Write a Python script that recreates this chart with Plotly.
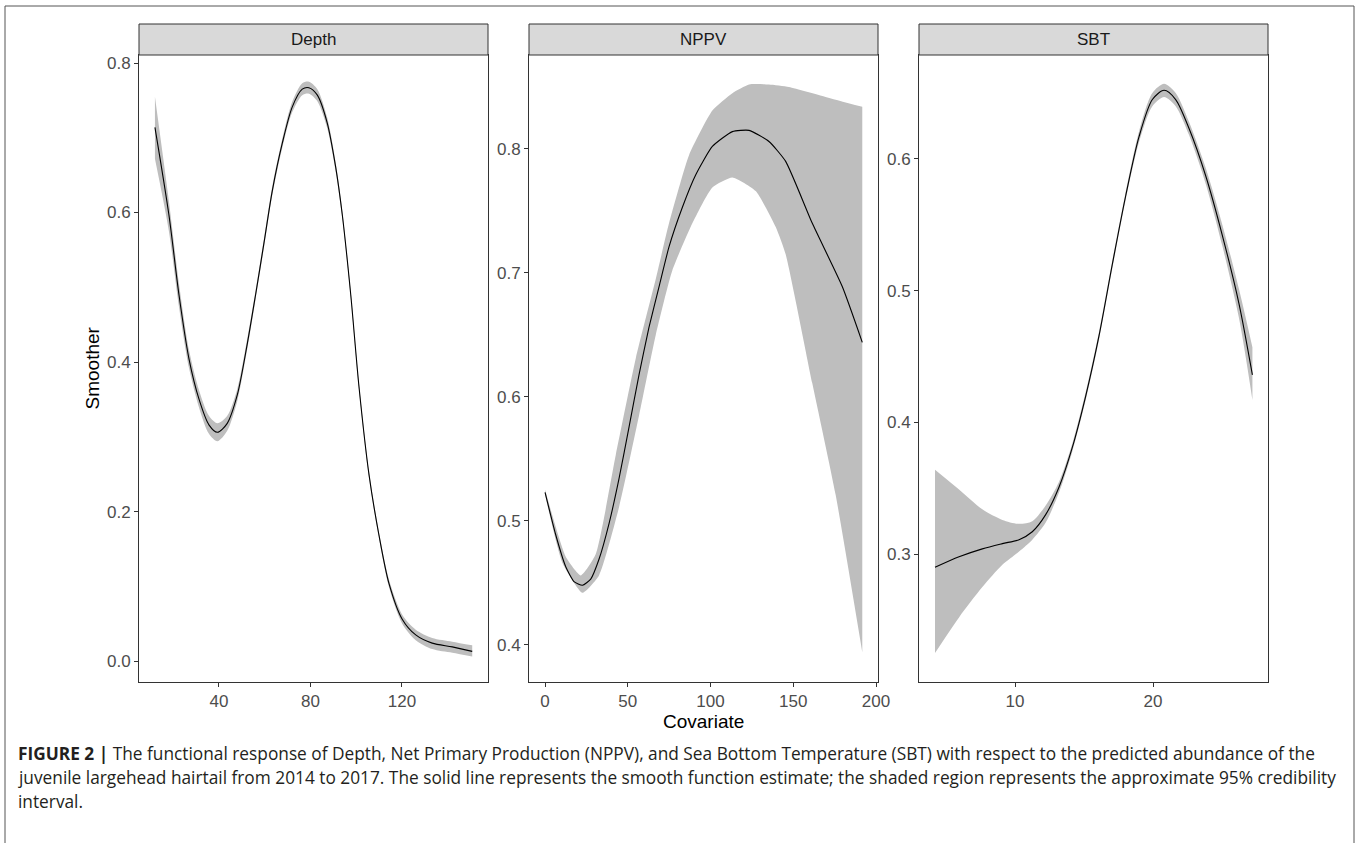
import plotly.graph_objects as go

W, H = 1359, 843

# ---------------- data ----------------
depth_x = [12.0, 18.1, 22.5, 26.9, 31.3, 35.6, 39.3, 43.6, 48.0, 52.4, 56.0, 59.7, 63.3, 67.7,
           72.0, 76.4, 79.3, 83.0, 87.3, 91.0, 93.9, 97.6, 101.2, 105.6, 109.9, 114.3, 120.1,
           126.0, 133.2, 142.0, 150.7]
depth_y = [0.714, 0.597, 0.490, 0.404, 0.350, 0.316, 0.306, 0.318, 0.356, 0.425, 0.490, 0.560,
           0.629, 0.693, 0.741, 0.765, 0.767, 0.757, 0.720, 0.661, 0.597, 0.490, 0.367, 0.249,
           0.169, 0.104, 0.056, 0.035, 0.024, 0.019, 0.013]
depth_lo = [0.672, 0.575, 0.474, 0.392, 0.339, 0.304, 0.294, 0.308, 0.348, 0.418, 0.484, 0.554,
            0.623, 0.687, 0.734, 0.757, 0.759, 0.749, 0.713, 0.655, 0.592, 0.486, 0.363, 0.245,
            0.165, 0.099, 0.050, 0.028, 0.016, 0.011, 0.006]
depth_hi = [0.755, 0.615, 0.505, 0.416, 0.362, 0.328, 0.318, 0.328, 0.364, 0.432, 0.496, 0.566,
            0.635, 0.699, 0.748, 0.773, 0.775, 0.765, 0.727, 0.667, 0.602, 0.494, 0.371, 0.253,
            0.173, 0.109, 0.062, 0.042, 0.031, 0.026, 0.021]

nppv_x = [0.0, 6.4, 12.5, 17.5, 22.6, 27.6, 32.6, 38.7, 44.7, 50.8, 56.8, 62.8, 68.9, 74.9,
          83.0, 91.0, 101.1, 113.2, 123.3, 135.3, 145.4, 161.5, 179.6, 191.7]
nppv_y = [0.523, 0.489, 0.463, 0.451, 0.448, 0.453, 0.469, 0.498, 0.534, 0.576, 0.618, 0.656,
          0.689, 0.721, 0.753, 0.779, 0.802, 0.814, 0.815, 0.806, 0.790, 0.740, 0.689, 0.644]
nppv_hi_x = [0.0, 12.5, 21.6, 30.6, 42.7, 54.8, 66.9, 74.9, 87.0, 101.1, 113.2, 123.3, 135.3,
             147.4, 169.5, 191.7]
nppv_hi = [0.525, 0.471, 0.456, 0.473, 0.553, 0.631, 0.695, 0.740, 0.795, 0.831, 0.845, 0.852,
           0.852, 0.850, 0.842, 0.834]
nppv_lo_x = [0.0, 10.5, 22.6, 32.6, 44.7, 56.8, 66.9, 76.9, 89.0, 101.1, 113.2, 127.3, 139.4,
             145.4, 161.5, 175.6, 191.7]
nppv_lo = [0.521, 0.466, 0.442, 0.456, 0.511, 0.585, 0.650, 0.702, 0.740, 0.769, 0.777, 0.766,
           0.737, 0.715, 0.611, 0.521, 0.394]

sbt_x = [4.20, 5.94, 7.63, 9.08, 10.29, 11.25, 12.22, 13.19, 14.15, 15.12, 16.09, 17.05, 18.02,
         18.99, 19.95, 20.80, 21.64, 22.61, 23.82, 25.02, 26.23, 27.20]
sbt_y = [0.290, 0.298, 0.304, 0.308, 0.311, 0.317, 0.330, 0.351, 0.381, 0.420, 0.466, 0.520,
         0.572, 0.617, 0.645, 0.652, 0.645, 0.623, 0.587, 0.542, 0.490, 0.436]
sbt_hi = [0.364, 0.349, 0.334, 0.326, 0.323, 0.325, 0.337, 0.355, 0.384, 0.423, 0.469, 0.523,
          0.575, 0.621, 0.650, 0.657, 0.650, 0.628, 0.593, 0.550, 0.501, 0.457]
sbt_lo = [0.225, 0.252, 0.275, 0.292, 0.302, 0.311, 0.324, 0.347, 0.378, 0.417, 0.463, 0.517,
          0.569, 0.613, 0.640, 0.647, 0.640, 0.618, 0.581, 0.534, 0.479, 0.417]

panel_names = ["Depth", "NPPV", "SBT"]
x_ticks = [[40, 80, 120], [0, 50, 100, 150, 200], [10, 20]]
y_ticks = [[0.0, 0.2, 0.4, 0.6, 0.8], [0.4, 0.5, 0.6, 0.7, 0.8], [0.3, 0.4, 0.5, 0.6]]
x_ranges = [[5.03, 157.6], [-9.7, 201.2], [3.04, 28.33]]
y_ranges = [[-0.028, 0.8107], [0.370, 0.8758], [0.203, 0.6788]]

caption_lines = [
    "<b>FIGURE 2 |</b> The functional response of Depth, Net Primary Production (NPPV), and Sea Bottom Temperature (SBT) with respect to the predicted abundance of the",
    "juvenile largehead hairtail from 2014 to 2017. The solid line represents the smooth function estimate; the shaded region represents the approximate 95% credibility",
    "interval.",
]

# ---------------- figure ----------------
FONT = "Liberation Sans, Arial, sans-serif"
CAP_FONT = "Open Sans, Liberation Sans, sans-serif"
BAND = "#BEBEBE"
fig = go.Figure()

panels_px = [(139, 488), (529, 878), (919, 1268)]
top_px, bot_px = 55, 682
strip_top = 24


def band(xl, yl, xh, yh, ax, smooth):
    fig.add_trace(go.Scatter(x=xl, y=yl, mode="lines",
                             line=dict(width=0, shape="spline", smoothing=smooth),
                             hoverinfo="skip", showlegend=False,
                             xaxis="x" + ax, yaxis="y" + ax))
    fig.add_trace(go.Scatter(x=xh, y=yh, mode="lines", fill="tonexty", fillcolor=BAND,
                             line=dict(width=0, shape="spline", smoothing=smooth),
                             hoverinfo="skip", showlegend=False,
                             xaxis="x" + ax, yaxis="y" + ax))


def line(x, y, ax, smooth):
    fig.add_trace(go.Scatter(x=x, y=y, mode="lines",
                             line=dict(color="black", width=1.1, shape="spline",
                                       smoothing=smooth),
                             hoverinfo="skip", showlegend=False,
                             xaxis="x" + ax, yaxis="y" + ax))


band(depth_x, depth_lo, depth_x, depth_hi, "", 0.8)
line(depth_x, depth_y, "", 0.8)
band(nppv_lo_x, nppv_lo, nppv_hi_x, nppv_hi, "2", 0.5)
line(nppv_x, nppv_y, "2", 0.5)
band(sbt_x, sbt_lo, sbt_x, sbt_hi, "3", 0.8)
line(sbt_x, sbt_y, "3", 0.8)

layout = dict(width=W, height=H, autosize=False, margin=dict(l=0, r=0, t=0, b=0, pad=0),
              paper_bgcolor="white", plot_bgcolor="white", showlegend=False,
              font=dict(family=FONT), template="none")
shapes, annotations = [], []
for i, (x0, x1) in enumerate(panels_px):
    sfx = "" if i == 0 else str(i + 1)
    axstyle = dict(showline=True, mirror=True, linecolor="#333333", linewidth=1,
                   ticks="outside", ticklen=4, tickcolor="#333333", tickwidth=1,
                   showgrid=False, zeroline=False, automargin=False,
                   tickfont=dict(family=FONT, size=17, color="#4D4D4D"))
    layout["xaxis" + sfx] = dict(domain=[x0 / W, x1 / W], range=x_ranges[i],
                                 tickvals=x_ticks[i], anchor="y" + sfx, **axstyle)
    layout["yaxis" + sfx] = dict(domain=[1 - bot_px / H, 1 - top_px / H], range=y_ranges[i],
                                 tickvals=y_ticks[i], tickformat=".1f", anchor="x" + sfx,
                                 **axstyle)
    shapes.append(dict(type="rect", xref="paper", yref="paper",
                       x0=x0 / W, x1=x1 / W, y0=1 - top_px / H, y1=1 - strip_top / H,
                       fillcolor="#D9D9D9", line=dict(color="#333333", width=1)))
    annotations.append(dict(text=panel_names[i], xref="paper", yref="paper",
                            x=(x0 + x1) / 2 / W, y=1 - (strip_top + top_px) / 2 / H,
                            showarrow=False, xanchor="center", yanchor="middle",
                            font=dict(family=FONT, size=17, color="#1A1A1A")))

# outer frame
shapes.append(dict(type="rect", xref="paper", yref="paper",
                   x0=5 / W, x1=1354 / W, y0=-0.05, y1=1 - 6 / H,
                   line=dict(color="#555555", width=1), fillcolor="rgba(0,0,0,0)"))

annotations.append(dict(text="Smoother", xref="paper", yref="paper", x=92 / W,
                        y=1 - ((top_px + bot_px) / 2) / H, textangle=-90, showarrow=False,
                        xanchor="center", yanchor="middle",
                        font=dict(family=FONT, size=19, color="black")))
annotations.append(dict(text="Covariate", xref="paper", yref="paper", x=703 / W,
                        y=1 - 709 / H, showarrow=False, xanchor="center", yanchor="top",
                        font=dict(family=FONT, size=19, color="black")))
for k, txt in enumerate(caption_lines):
    annotations.append(dict(text=txt, xref="paper", yref="paper", x=16 / W,
                            y=1 - (753 + 24 * k) / H, showarrow=False,
                            xanchor="left", yanchor="middle",
                            font=dict(family=CAP_FONT, size=17.3, color="#231F20")))

layout["shapes"] = shapes
layout["annotations"] = annotations
fig.update_layout(**layout)

post = """
document.documentElement.style.margin='0';
document.documentElement.style.overflow='hidden';
document.body.style.margin='0';
document.body.style.overflow='hidden';
"""
fig.write_html("out.html", config={"responsive": False, "displayModeBar": False},
               post_script=post)
